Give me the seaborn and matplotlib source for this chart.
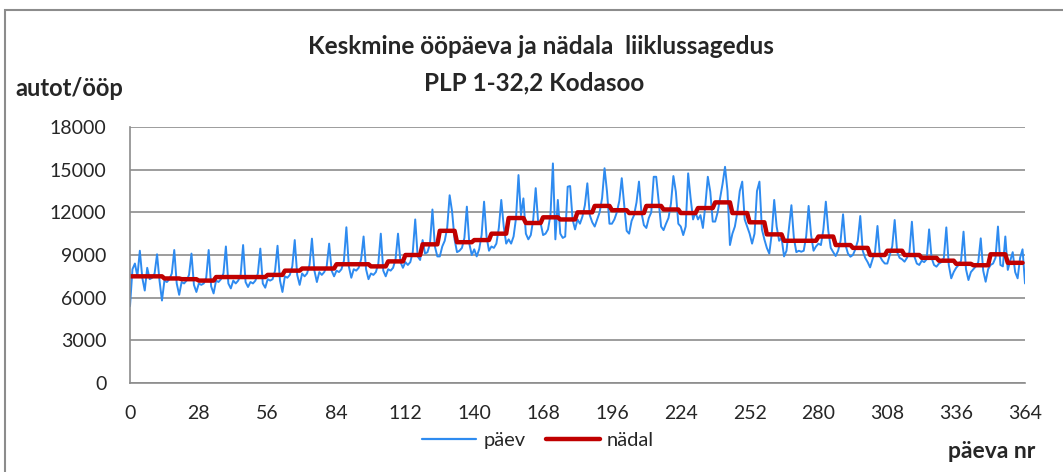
import numpy as np
import pandas as pd
import matplotlib
matplotlib.use("Agg")
import matplotlib.pyplot as plt
import seaborn as sns
from matplotlib.patches import Rectangle
from matplotlib.ticker import MultipleLocator

# daily averages, one row per week (Mon..Sun), last value is day 364
paev_weeks = [
    [5400, 8000, 8400, 7500, 9300, 7400, 6500],
    [8100, 7300, 7400, 7700, 9050, 7200, 5800],
    [7200, 7100, 7300, 7700, 9350, 7000, 6200],
    [7100, 7000, 7200, 7600, 9100, 6900, 6400],
    [7000, 6900, 7000, 7400, 9350, 6800, 6300],
    [7200, 7100, 7300, 7700, 9600, 7000, 6650],
    [7200, 7000, 7200, 7600, 9700, 7100, 6750],
    [7100, 7000, 7200, 7700, 9450, 7000, 6700],
    [7300, 7200, 7300, 7900, 9650, 7200, 6400],
    [7500, 7400, 7600, 8200, 10050, 7600, 6900],
    [7700, 7500, 7700, 8300, 10150, 7900, 7100],
    [7800, 7600, 7800, 8200, 9800, 7900, 7500],
    [7900, 7800, 8000, 8600, 10950, 8200, 7400],
    [8000, 7900, 8100, 8700, 10300, 8000, 7300],
    [7700, 7600, 7800, 8400, 10500, 7900, 7500],
    [8000, 7900, 8100, 8700, 10500, 8500, 8100],
    [8500, 8300, 8500, 9200, 11500, 8900, 8650],
    [10050, 9100, 9200, 9800, 12200, 9600, 8900],
    [8900, 9600, 10000, 10900, 13200, 12050, 10100],
    [9200, 9300, 9500, 10200, 12400, 9800, 9000],
    [9400, 8900, 9400, 10400, 12750, 10300, 9300],
    [9600, 9500, 9800, 10900, 12870, 11000, 9800],
    [10100, 9800, 10300, 11600, 14620, 11800, 12980],
    [10500, 10100, 10400, 11500, 13700, 11300, 11250],
    [10400, 10500, 10800, 11800, 15440, 10100, 12870],
    [10500, 10200, 10300, 13800, 13850, 11500, 10800],
    [11500, 11200, 11700, 12500, 14040, 11800, 11300],
    [11000, 11500, 12000, 13000, 15100, 13450, 11200],
    [11200, 11500, 12000, 12800, 14400, 12500, 10700],
    [10500, 11400, 11800, 12700, 14160, 12000, 11100],
    [10900, 11600, 12000, 14500, 14500, 12800, 11000],
    [10750, 11200, 11600, 12600, 14550, 13450, 11200],
    [11000, 10400, 11000, 14740, 13000, 11500, 12000],
    [11500, 11800, 10900, 12500, 14500, 13450, 11350],
    [11350, 12000, 13000, 14000, 15200, 13500, 9700],
    [10500, 11000, 12000, 13500, 14160, 11500, 11000],
    [10500, 9800, 10500, 13500, 14160, 10800, 10100],
    [9500, 9100, 10500, 12870, 11000, 10000, 10200],
    [8900, 9300, 10900, 12500, 10200, 9200, 9300],
    [9230, 9300, 10300, 12450, 10400, 9300, 9600],
    [9800, 9700, 10800, 12750, 10700, 9500, 9200],
    [8930, 9300, 10000, 11860, 9700, 9100, 8880],
    [9000, 9400, 10000, 11740, 9300, 8800, 8500],
    [8130, 8700, 9200, 11040, 8900, 8600, 8400],
    [8400, 9000, 9600, 11460, 9200, 8800, 8700],
    [8530, 8800, 9200, 11340, 8900, 8400, 8300],
    [8600, 8500, 8700, 10800, 8800, 8300, 8180],
    [8400, 8500, 8800, 10940, 8300, 7360, 7800],
    [8100, 8300, 8600, 10640, 8000, 7240, 7800],
    [8000, 8200, 8500, 10170, 7900, 7120, 8000],
    [8300, 8400, 8800, 11000, 8300, 8200, 10300],
    [7950, 8600, 9200, 7800, 7360, 8800, 9400],
]
paev_last = [7000]

# weekly averages (52 weeks)
nadal_weeks = [
    7500, 7500, 7350, 7300, 7200, 7450, 7450, 7450, 7600, 7900,
    8050, 8050, 8350, 8350, 8200, 8550, 9000, 9750, 10700, 9900,
    10050, 10500, 11600, 11250, 11650, 11500, 12000, 12450, 12150, 11950,
    12450, 12200, 11950, 12300, 12700, 11950, 11300, 10450, 10000, 10000,
    10300, 9700, 9500, 9000, 9300, 9000, 8800, 8600, 8380, 8280,
    9050, 8450,
]

y_ticks = [0, 3000, 6000, 9000, 12000, 15000, 18000]
x_ticks = list(range(0, 365, 28))

paev = np.concatenate([np.ravel(paev_weeks), paev_last])
nadal = np.append(np.repeat(nadal_weeks, 7), np.nan)
df = pd.DataFrame({"day": np.arange(len(paev)), "päev": paev, "nädal": nadal})
long = df.melt(id_vars="day", var_name="series", value_name="value")

sns.set_style("white")
plt.rcParams["font.family"] = ["Lato", "DejaVu Sans"]

fig = plt.figure(figsize=(10.63, 4.72), dpi=100)
ax = fig.add_axes([130 / 1063, 1 - 383 / 472, 895 / 1063, 256 / 472])

sns.lineplot(data=long, x="day", y="value", hue="series", size="series",
             palette={"päev": "#2E8BF0", "nädal": "#C00000"},
             sizes={"päev": 1.4, "nädal": 3.2}, ax=ax, legend=False)

ax.set_xlim(0, 364)
ax.set_ylim(0, 18000)
ax.set_xticks(x_ticks)
ax.xaxis.set_minor_locator(MultipleLocator(7))
ax.set_yticks(y_ticks)
ax.yaxis.grid(True, color="#8c8c8c", linewidth=1.2)
ax.set_axisbelow(True)
for s in ["top", "right"]:
    ax.spines[s].set_visible(False)
for s in ["left", "bottom"]:
    ax.spines[s].set_color("#8c8c8c")
    ax.spines[s].set_linewidth(1.2)
ax.tick_params(axis="x", which="major", direction="inout", length=11, width=1.2,
               color="#8c8c8c", labelsize=14, pad=10)
ax.tick_params(axis="x", which="minor", direction="out", length=4, width=1.2,
               color="#8c8c8c")
ax.tick_params(axis="y", direction="out", length=6, width=1.2, color="#8c8c8c",
               labelsize=14, pad=11)
ax.set_xlabel("")
ax.set_ylabel("")

fig.text(541 / 1063, 1 - 47 / 472, "Keskmine ööpäeva ja nädala  liiklussagedus",
         ha="center", va="center", fontsize=17.5, fontweight="bold")
fig.text(534 / 1063, 1 - 83 / 472, "PLP 1-32,2 Kodasoo",
         ha="center", va="center", fontsize=17.5, fontweight="bold")
fig.text(15 / 1063, 1 - 89 / 472, "autot/ööp", ha="left", va="center",
         fontsize=17, fontweight="bold")
fig.text(1035 / 1063, 1 - 452 / 472, "päeva nr", ha="right", va="center",
         fontsize=16.5, fontweight="bold")

handles = [plt.Line2D([], [], color="#2E8BF0", lw=1.6),
           plt.Line2D([], [], color="#C00000", lw=3.2)]
fig.legend(handles, ["päev", "nädal"], loc="center", bbox_to_anchor=(538 / 1063, 1 - 440 / 472),
           ncol=2, frameon=False, fontsize=14.5, handlelength=2.7, handletextpad=0.35,
           columnspacing=1.0)

fig.patches.append(Rectangle((5 / 1063, -0.1), 1.2, 1 - 10 / 472 + 0.1,
                             transform=fig.transFigure, fill=False,
                             edgecolor="#8c8c8c", linewidth=1.5))

fig.savefig("out.png", dpi=100)
